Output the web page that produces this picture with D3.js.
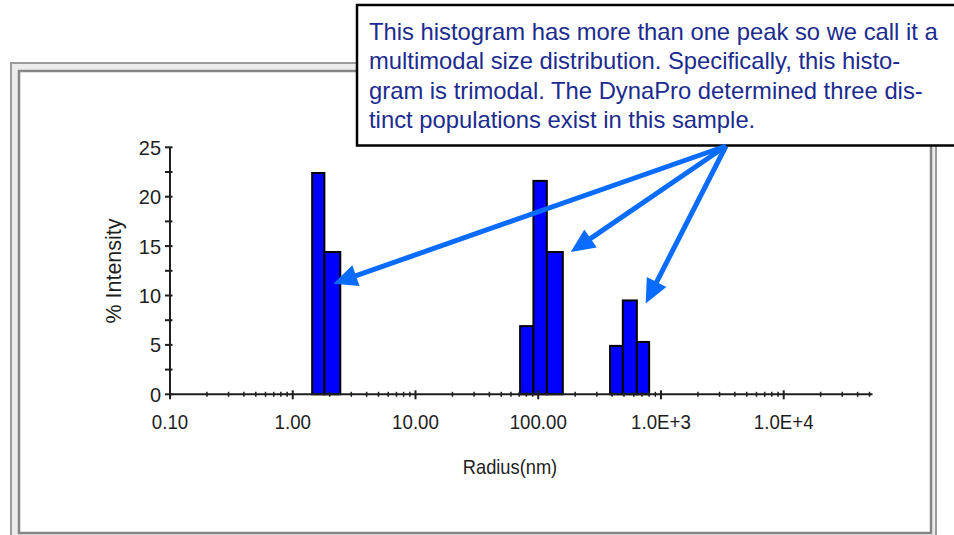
<!DOCTYPE html>
<html>
<head>
<meta charset="utf-8">
<script src="https://cdn.jsdelivr.net/npm/d3@7"></script>
<style>
  html, body { margin: 0; padding: 0; background: #ffffff; }
  svg { display: block; }
  text { font-family: "Liberation Sans", Arial, sans-serif; }
</style>
</head>
<body>
<svg id="chart" width="954" height="535"></svg>
<script>
// Histogram bins: lower / upper radius edge (nm) and % intensity
const binLo     = [1.44, 1.81, 71.2, 91.4, 117.5, 385, 489, 636];
const binHi     = [1.81, 2.44, 91.4, 117.5, 158.6, 489, 636, 801];
const intensity = [22.4, 14.4, 6.9, 21.6, 14.4, 4.9, 9.5, 5.3];

// Axis ticks and labels
const xMajor = [0.1, 1, 10, 100, 1000, 10000];
const xMajorLabels = ["0.10", "1.00", "10.00", "100.00", "1.0E+3", "1.0E+4"];
const yMajor = [0, 5, 10, 15, 20, 25];
const yMinor = [2.5, 7.5, 12.5, 17.5, 22.5];

// Call-out text and the (radius, intensity) points its arrows point to
const noteLines = [
  "This histogram has more than one peak so we call it a",
  "multimodal size distribution. Specifically, this histo-",
  "gram is trimodal. The DynaPro determined three dis-",
  "tinct populations exist in this sample."
];
const arrowTargets = [[2.14, 11.2], [184, 14.4], [751, 9.2]];

const svg = d3.select("#chart");

// Window-style 3D frame around the plot
svg.append("rect").attr("x", 11).attr("y", 63).attr("width", 925).attr("height", 490)
  .attr("fill", "#ececec").attr("stroke", "#9c9c9c").attr("stroke-width", 2);
svg.append("rect").attr("x", 19).attr("y", 71).attr("width", 912).attr("height", 462)
  .attr("fill", "#ffffff").attr("stroke", "#858585").attr("stroke-width", 2.5);

const x = d3.scaleLog().domain([0.1, 50000]).range([170, 869.5]);
const y = d3.scaleLinear().domain([0, 25]).range([394.3, 147.3]);

const ink = "#1e1e1e";
const narrow = 0.89; // horizontal squeeze of the axis lettering

// Bars
const bins = binLo.map((lo, i) => ({ lo, hi: binHi[i], v: intensity[i] }));
svg.append("g").selectAll("rect").data(bins).join("rect")
  .attr("x", d => x(d.lo))
  .attr("width", d => x(d.hi) - x(d.lo))
  .attr("y", d => y(d.v))
  .attr("height", d => y(0) - y(d.v))
  .attr("fill", "#0000ff")
  .attr("stroke", "#000000")
  .attr("stroke-width", 2);

// X axis: log ticks crossing the line
const xa = svg.append("g");
xa.append("line").attr("x1", x.range()[0]).attr("x2", x.range()[1] + 3)
  .attr("y1", y(0)).attr("y2", y(0)).attr("stroke", ink).attr("stroke-width", 2);
const xMinor = [];
for (let e = -1; e <= 4; e++) {
  for (let m = 2; m <= 9; m++) {
    const v = m * Math.pow(10, e);
    if (v <= 50000) xMinor.push(v);
  }
}
xa.selectAll("line.minor").data(xMinor).join("line").attr("class", "minor")
  .attr("x1", d => x(d)).attr("x2", d => x(d))
  .attr("y1", y(0) - 2.5).attr("y2", y(0) + 2.5)
  .attr("stroke", ink).attr("stroke-width", 1.5);
xa.selectAll("line.major").data(xMajor).join("line").attr("class", "major")
  .attr("x1", d => x(d)).attr("x2", d => x(d))
  .attr("y1", y(0) - 4).attr("y2", y(0) + 5)
  .attr("stroke", ink).attr("stroke-width", 2);
xa.selectAll("text").data(xMajor).join("text")
  .attr("transform", d => `translate(${x(d)},${y(0) + 35}) scale(${narrow},1)`)
  .attr("text-anchor", "middle").attr("font-size", 21).attr("fill", ink)
  .text((d, i) => xMajorLabels[i]);

// Y axis
const ya = svg.append("g");
ya.append("line").attr("x1", x.range()[0]).attr("x2", x.range()[0])
  .attr("y1", y(25)).attr("y2", y(0)).attr("stroke", ink).attr("stroke-width", 2);
ya.selectAll("line.tick").data(yMajor.concat(yMinor)).join("line").attr("class", "tick")
  .attr("x1", x.range()[0] - 5).attr("x2", x.range()[0] + 2.5)
  .attr("y1", d => y(d)).attr("y2", d => y(d))
  .attr("stroke", ink).attr("stroke-width", 2);
ya.selectAll("text").data(yMajor).join("text")
  .attr("transform", d => `translate(${x.range()[0] - 9},${y(d)}) scale(0.95,1)`)
  .attr("dy", "0.36em")
  .attr("text-anchor", "end").attr("font-size", 21).attr("fill", ink)
  .text(d => d);

// Axis titles
svg.append("text").attr("transform", `translate(510,474) scale(0.87,1)`)
  .attr("text-anchor", "middle")
  .attr("font-size", 21).attr("fill", ink).text("Radius(nm)");
svg.append("text").attr("transform", "translate(121,271) rotate(-90)")
  .attr("text-anchor", "middle").attr("font-size", 21.5).attr("fill", ink).text("% Intensity");

// Call-out box
svg.append("rect").attr("x", 357).attr("y", 5).attr("width", 640).attr("height", 140.5)
  .attr("fill", "#ffffff").attr("stroke", "#000000").attr("stroke-width", 2.5);
svg.append("g").selectAll("text").data(noteLines).join("text")
  .attr("x", 369).attr("y", (d, i) => 40 + i * 29.4)
  .attr("font-size", 23.8).attr("fill", "#1b2b8e").text(d => d);

// Arrows from the box to each population
const origin = [726, 146];
const arrowColor = "#0a6cff";
const headLen = 24, headHalf = 11;
const ag = svg.append("g");
arrowTargets.forEach(([r, v]) => {
  const tx = x(r), ty = y(v);
  const dx = tx - origin[0], dy = ty - origin[1];
  const len = Math.hypot(dx, dy);
  const ux = dx / len, uy = dy / len;
  const bx = tx - ux * headLen, by = ty - uy * headLen;
  ag.append("line").attr("x1", origin[0]).attr("y1", origin[1])
    .attr("x2", bx + ux * 2).attr("y2", by + uy * 2)
    .attr("stroke", arrowColor).attr("stroke-width", 5);
  ag.append("polygon")
    .attr("points", [
      [tx, ty],
      [bx - uy * headHalf, by + ux * headHalf],
      [bx + uy * headHalf, by - ux * headHalf]
    ].map(p => p.join(",")).join(" "))
    .attr("fill", arrowColor);
});
</script>
</body>
</html>
